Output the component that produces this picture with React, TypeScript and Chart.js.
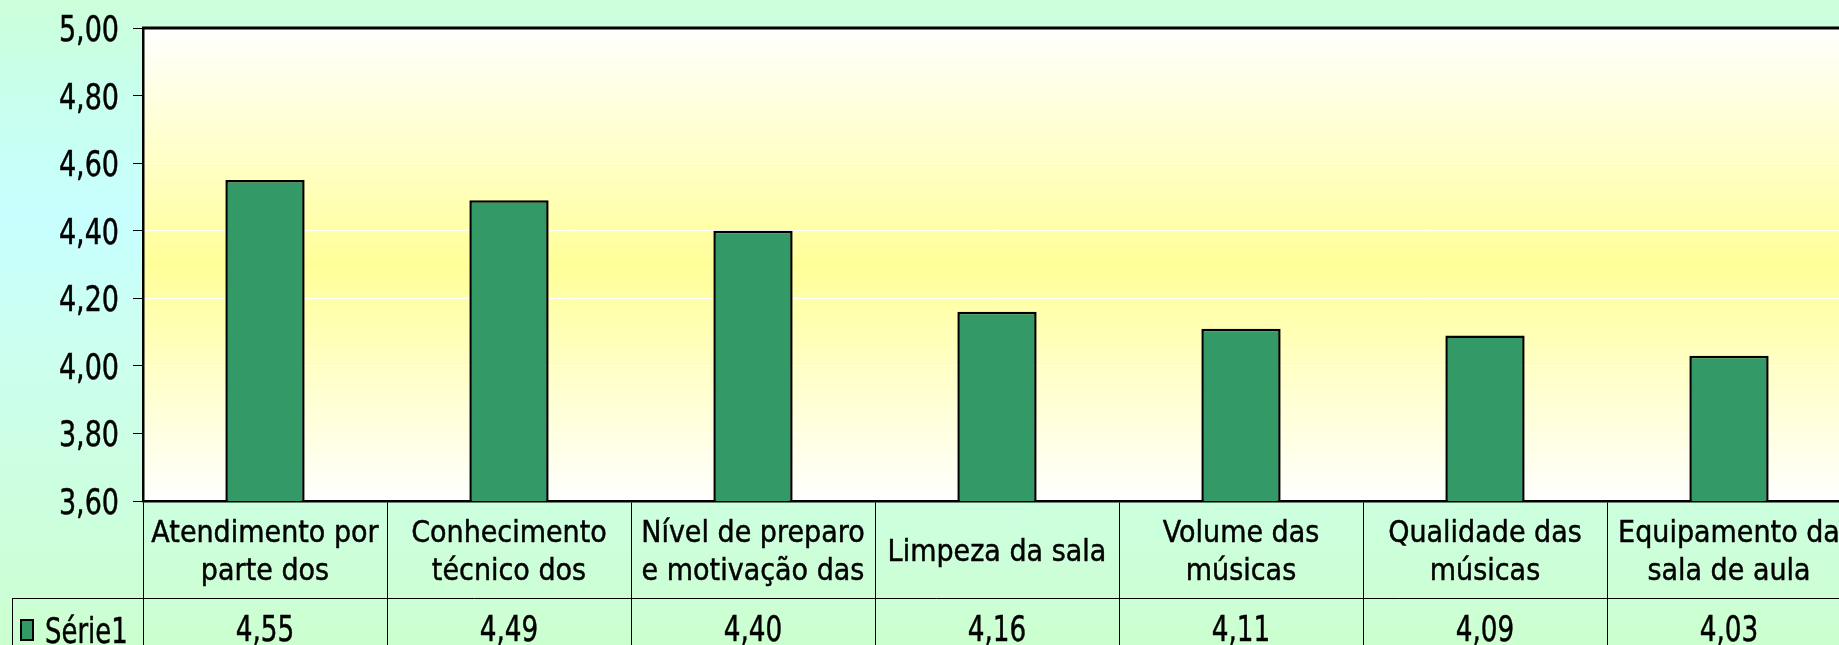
import React, { useEffect, useRef } from "react";
import { Chart, registerables } from "chart.js";

Chart.register(...registerables);

const categoryLines: string[][] = [
  ["Atendimento por", "parte dos"],
  ["Conhecimento", "técnico dos"],
  ["Nível de preparo", "e motivação das"],
  ["Limpeza da sala"],
  ["Volume das", "músicas"],
  ["Qualidade das", "músicas"],
  ["Equipamento da", "sala de aula"],
];
const seriesName = "Série1";
const seriesValues: number[] = [4.55, 4.49, 4.4, 4.16, 4.11, 4.09, 4.03];
const yMin = 3.6;
const yMax = 5.0;
const yStep = 0.2;

const FONT = "'DejaVu Sans', Verdana, sans-serif";
const BAR_GREEN = "#339966";

const fmt = (v: number) => v.toFixed(2).replace(".", ",");

function squishText(
  ctx: CanvasRenderingContext2D,
  text: string,
  x: number,
  y: number,
  size: number,
  squish: number,
  align: CanvasTextAlign
) {
  ctx.save();
  ctx.font = `${size}px ${FONT}`;
  ctx.textAlign = align;
  ctx.textBaseline = "alphabetic";
  ctx.fillStyle = "#000";
  ctx.strokeStyle = "#000";
  ctx.lineWidth = 0.5;
  ctx.translate(x, y);
  ctx.scale(squish, 1);
  ctx.fillText(text, 0, 0);
  ctx.strokeText(text, 0, 0);
  ctx.restore();
}

const decorPlugin = {
  id: "decor",
  beforeDraw(chart: any) {
    const { ctx, chartArea } = chart;
    const { left, right, top, bottom } = chartArea;
    const g = ctx.createLinearGradient(0, top, 0, bottom);
    g.addColorStop(0, "#FFFFFF");
    g.addColorStop(0.5, "#FFFF99");
    g.addColorStop(1, "#FFFFFF");
    ctx.save();
    ctx.fillStyle = g;
    ctx.fillRect(left, top, right - left, bottom - top);
    ctx.restore();
  },
  afterDraw(chart: any) {
    const { ctx, chartArea, scales } = chart;
    const xs = scales.x;
    const ys = scales.y;
    const { left, right, top, bottom } = chartArea;
    const canvasH = chart.height;
    const canvasW = chart.width;

    // top border of plot area
    ctx.save();
    ctx.strokeStyle = "#000";
    ctx.lineWidth = 3;
    ctx.beginPath();
    ctx.moveTo(left - 1, top);
    ctx.lineTo(right, top);
    ctx.stroke();
    ctx.restore();

    // y tick labels
    ys.ticks.forEach((t: any) => {
      const py = ys.getPixelForValue(t.value);
      squishText(ctx, fmt(t.value), left - 24, py + 13, 36, 0.75, "right");
    });

    // data table
    const rowTop = bottom;
    const rowMid = bottom + 97;
    ctx.save();
    ctx.strokeStyle = "#000";
    ctx.lineWidth = 1;
    ctx.beginPath();
    ctx.moveTo(12.5, rowMid + 0.5);
    ctx.lineTo(canvasW, rowMid + 0.5);
    ctx.moveTo(12.5, rowMid);
    ctx.lineTo(12.5, canvasH);
    ctx.stroke();
    ctx.restore();

    const labelCenter = (rowTop + rowMid) / 2;
    const lineH = 38;
    categoryLines.forEach((lines, i) => {
      const cx = xs.getPixelForValue(i);
      lines.forEach((ln, k) => {
        const cy = labelCenter + (k - (lines.length - 1) / 2) * lineH;
        squishText(ctx, ln, cx, cy + 11, 30.5, 0.885, "center");
      });
      squishText(ctx, fmt(seriesValues[i]), cx, rowMid + 43, 36, 0.73, "center");
    });

    // legend key
    ctx.save();
    ctx.fillStyle = BAR_GREEN;
    ctx.strokeStyle = "#000";
    ctx.lineWidth = 2;
    ctx.fillRect(21, 620, 12, 20);
    ctx.strokeRect(21, 620, 12, 20);
    ctx.restore();
    squishText(ctx, seriesName, 45, 643, 36, 0.72, "left");
  },
};

export default function App() {
  const ref = useRef<HTMLCanvasElement | null>(null);
  useEffect(() => {
    if (!ref.current) return;
    const chart = new Chart(ref.current, {
      type: "bar",
      data: {
        labels: categoryLines,
        datasets: [
          {
            label: seriesName,
            data: seriesValues,
            backgroundColor: BAR_GREEN,
            borderColor: "#000",
            borderWidth: 2.5,
            barPercentage: 0.325,
            categoryPercentage: 1,
          },
        ],
      },
      options: {
        responsive: false,
        animation: false,
        devicePixelRatio: 1,
        layout: { padding: { top: 28, right: 9, left: 0, bottom: 0 } },
        plugins: {
          legend: { display: false },
          tooltip: { enabled: false },
          title: { display: false },
        },
        scales: {
          x: {
            offset: true,
            ticks: { display: false },
            grid: {
              display: true,
              offset: true,
              drawOnChartArea: false,
              drawTicks: true,
              tickLength: 144,
              color: "#000",
              tickColor: "#000",
              lineWidth: 1,
            },
            border: { display: true, color: "#000", width: 2.5 },
            afterFit: (s: any) => {
              s.height = 144;
            },
          },
          y: {
            min: yMin,
            max: yMax,
            ticks: { display: false, stepSize: yStep },
            grid: {
              color: "#FFFFFF",
              tickColor: "#000",
              lineWidth: 1,
              drawTicks: true,
              tickLength: 10,
            },
            border: { display: true, color: "#000", width: 2.5 },
            afterFit: (s: any) => {
              s.width = 143;
            },
          },
        },
      },
      plugins: [decorPlugin],
    });
    return () => chart.destroy();
  }, []);

  return (
    <div
      style={{
        position: "fixed",
        left: 0,
        top: 0,
        width: 1839,
        height: 645,
        overflow: "hidden",
        background:
          "linear-gradient(to bottom, #CCFFDA 0px, #C8FFEE 100px, #C8FFFF 215px, #CCFFF2 330px, #CCFFE6 430px, #CCFFDD 520px, #CCFFCF 645px)",
      }}
    >
      <canvas ref={ref} width={1860} height={645} style={{ display: "block", width: 1860, height: 645 }} />
    </div>
  );
}
